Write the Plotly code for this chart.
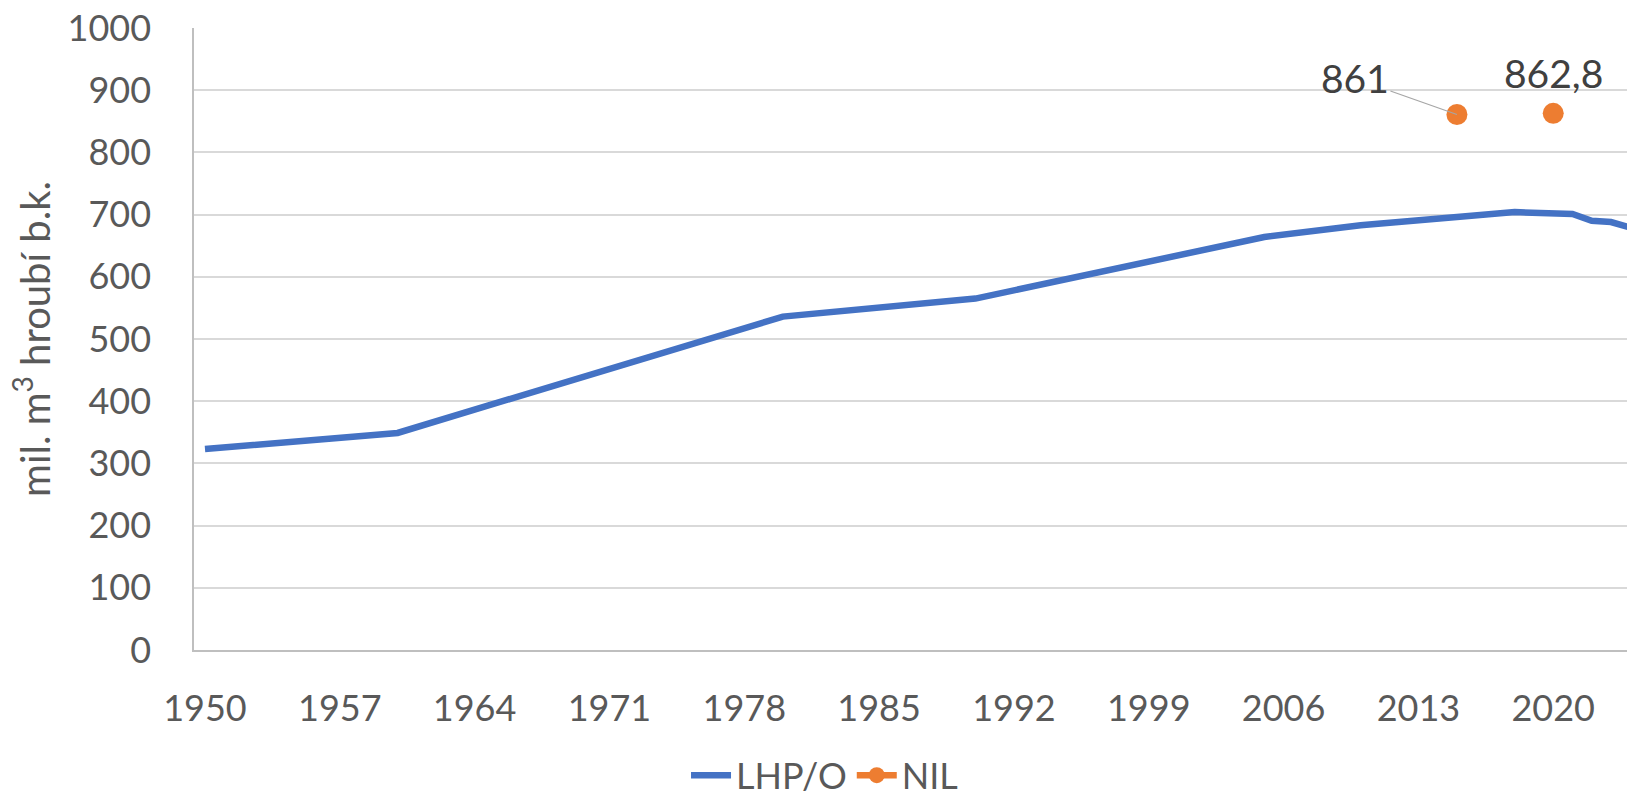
import plotly.graph_objects as go

# LHP/O series (years with visible breakpoints)
lhp_years = [1950, 1960, 1980, 1990, 2005, 2010, 2015, 2018, 2021, 2022, 2023, 2024]
lhp_values = [323, 349, 536, 565, 664, 683, 696, 704, 701, 690, 688, 679]

# NIL series
nil_years = [2015, 2020]
nil_values = [861, 862.8]
nil_labels = ["861", "862,8"]

# x tick labels
x_ticks = [1950, 1957, 1964, 1971, 1978, 1985, 1992, 1999, 2006, 2013, 2020]
y_ticks = [0, 100, 200, 300, 400, 500, 600, 700, 800, 900, 1000]

FONT = "Lato, 'Open Sans', sans-serif"
GREY = "#595959"

# NIL points separated by gaps so no connecting line is drawn
nil_x, nil_y = [], []
for i, (yr, v) in enumerate(zip(nil_years, nil_values)):
    if i > 0:
        nil_x.append(None)
        nil_y.append(None)
    nil_x.append(yr)
    nil_y.append(v)

fig = go.Figure()
fig.add_trace(go.Scatter(
    x=lhp_years, y=lhp_values, name="LHP/O", mode="lines",
    line=dict(color="#4472C4", width=6.5),
))
fig.add_trace(go.Scatter(
    x=nil_x, y=nil_y, name="NIL", mode="lines+markers",
    connectgaps=False,
    line=dict(color="#ED7D31", width=6.5),
    marker=dict(color="#ED7D31", size=21),
))

# data labels
fig.add_annotation(
    x=nil_years[0], y=nil_values[0], text=nil_labels[0],
    showarrow=True, arrowhead=0, arrowwidth=1.2, arrowcolor="#a6a6a6",
    ax=-102, ay=-36, standoff=0,
    font=dict(family=FONT, size=39, color="#404040"),
)
fig.add_annotation(
    x=nil_years[1], y=nil_values[1], text=nil_labels[1],
    showarrow=False, yshift=40,
    font=dict(family=FONT, size=39, color="#404040"),
)

fig.update_layout(
    width=1627, height=796,
    margin=dict(l=194, r=0, t=28, b=146, autoexpand=False),
    paper_bgcolor="white", plot_bgcolor="white",
    font=dict(family=FONT, size=36, color=GREY),
    showlegend=True,
    legend=dict(
        orientation="h", x=0.44, xanchor="center",
        yref="container", y=0.026, yanchor="middle",
        font=dict(family=FONT, size=36, color=GREY),
        itemwidth=40, tracegroupgap=0,
    ),
)
fig.update_xaxes(
    range=[1949.43, 2023.83], automargin=False,
    tickmode="array", tickvals=x_ticks, ticktext=[str(t) for t in x_ticks],
    showgrid=False, zeroline=False,
    showline=True, linecolor="#bfbfbf", linewidth=1.5,
    ticks="", ticklabelstandoff=26,
    tickfont=dict(family=FONT, size=36, color=GREY),
)
fig.update_yaxes(
    range=[0, 1000], automargin=False,
    tickmode="array", tickvals=y_ticks,
    showgrid=True, gridcolor="#d9d9d9", gridwidth=1.5,
    zeroline=False,
    showline=True, linecolor="#bfbfbf", linewidth=1.5,
    ticks="", ticklabelstandoff=34,
    tickfont=dict(family=FONT, size=36, color=GREY),
    title=dict(text="mil. m<sup>3</sup> hroubí b.k.", standoff=5,
               font=dict(family=FONT, size=40, color=GREY)),
)

fig.write_html("out.html", config={"displayModeBar": False},
               post_script="document.body.style.margin='0';")
